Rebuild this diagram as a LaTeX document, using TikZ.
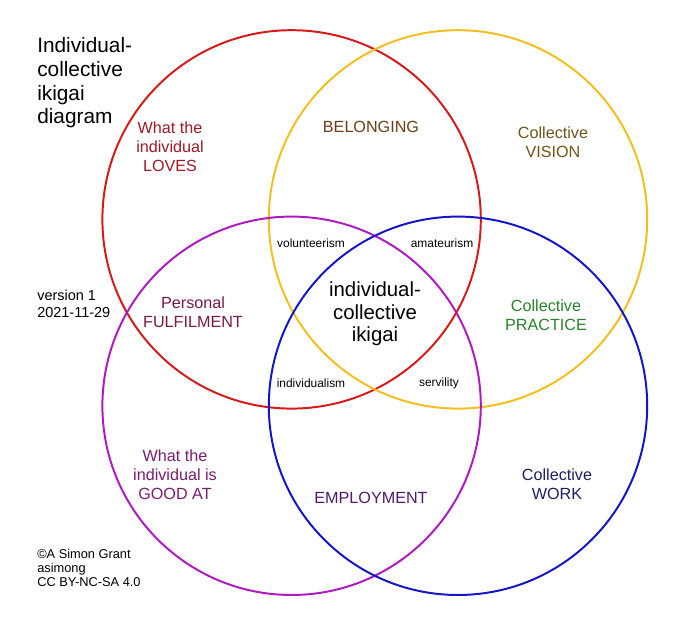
\documentclass[tikz,border=0pt]{standalone}
\usepackage{fontspec}
\setmainfont{Liberation Sans}
\definecolor{lovered}{RGB}{215,25,25}
\definecolor{belongyellow}{RGB}{245,190,30}
\definecolor{goodmagenta}{RGB}{175,25,195}
\definecolor{workblue}{RGB}{20,20,200}
\definecolor{lovestext}{RGB}{160,25,40}
\definecolor{belongtext}{RGB}{110,60,20}
\definecolor{visiontext}{RGB}{110,85,25}
\definecolor{fulfiltext}{RGB}{120,25,70}
\definecolor{practicetext}{RGB}{40,130,40}
\definecolor{goodtext}{RGB}{120,30,110}
\definecolor{employtext}{RGB}{80,25,110}
\definecolor{worktext}{RGB}{30,30,100}
\tikzset{
  ring/.style={line width=1.4pt},
  area/.style={inner sep=0pt, align=center, font=\fontsize{11.5}{13.5}\selectfont},
  overlap/.style={inner sep=0pt, font=\fontsize{8.5}{10}\selectfont},
  sidenote/.style={inner sep=0pt, anchor=west, align=left}
}
\begin{document}
\begin{tikzpicture}
    \useasboundingbox (0,0) rectangle (17,15.625);
    \draw[ring,lovered] (7.29,10.14) circle[radius=4.73];
    \draw[ring,belongyellow] (11.45,10.14) circle[radius=4.73];
    \draw[ring,goodmagenta] (7.29,5.48) circle[radius=4.73];
    \draw[ring,workblue] (11.45,5.48) circle[radius=4.73];
    \node[sidenote,font=\fontsize{14.8}{16.8}\selectfont] (title) at (0.925,13.55) {Individual-\\collective\\ikigai\\diagram};
    \node[sidenote,font=\fontsize{10.3}{12}\selectfont] (version) at (0.925,8.04) {version 1\\2021-11-29};
    \node[sidenote,font=\fontsize{9.1}{10.2}\selectfont] (licence) at (0.925,1.43) {\textcopyright A Simon Grant\\asimong\\CC BY-NC-SA 4.0};
    \node[area,lovestext] (loves) at (4.25,11.95) {What the\\individual\\LOVES};
    \node[area,belongtext] (belonging) at (9.275,12.45) {BELONGING};
    \node[area,visiontext] (vision) at (13.825,12.075) {Collective\\VISION};
    \node[area,fulfiltext] (fulfilment) at (4.825,7.81) {Personal\\FULFILMENT};
    \node[area,practicetext] (practice) at (13.65,7.74) {Collective\\PRACTICE};
    \node[area,goodtext] (goodat) at (4.375,3.75) {What the\\individual is\\GOOD AT};
    \node[area,employtext] (employment) at (9.275,3.175) {EMPLOYMENT};
    \node[area,worktext] (work) at (13.925,3.525) {Collective\\WORK};
    \node[overlap] (volunteer) at (7.775,9.55) {volunteerism};
    \node[overlap] (amateur) at (11.05,9.55) {amateurism};
    \node[overlap] (individualism) at (7.775,6.05) {individualism};
    \node[overlap] (servility) at (10.975,6.05) {servility};
    \node[inner sep=0pt,align=center,font=\fontsize{14.5}{16}\selectfont] (ikigai) at (9.375,7.775) {individual-\\collective\\ikigai};
\end{tikzpicture}
\end{document}
